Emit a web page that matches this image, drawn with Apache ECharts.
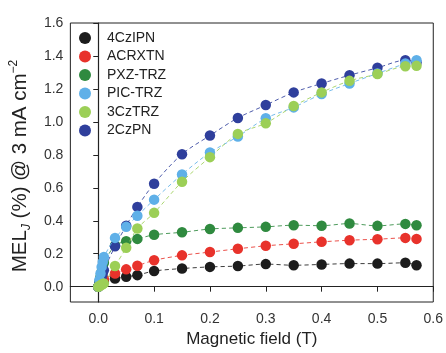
<!DOCTYPE html>
<html><head><meta charset="utf-8">
<script src="https://cdn.jsdelivr.net/npm/echarts@6/dist/echarts.min.js"></script>
<style>html,body{margin:0;padding:0;background:#fff}#c{width:446px;height:353px}</style>
</head><body><div id="c"></div>
<script>
const fields = [0, 0.002, 0.004, 0.006, 0.008, 0.01, 0.03, 0.05, 0.07, 0.1, 0.15, 0.2, 0.25, 0.3, 0.35, 0.4, 0.45, 0.5, 0.55, 0.57];
const s4CzIPN = [0, 0.008, 0.015, 0.022, 0.028, 0.034, 0.05, 0.06, 0.07, 0.095, 0.11, 0.12, 0.125, 0.137, 0.13, 0.135, 0.14, 0.14, 0.145, 0.13];
const sACRXTN = [0, 0.01, 0.02, 0.03, 0.038, 0.045, 0.08, 0.105, 0.127, 0.16, 0.19, 0.21, 0.23, 0.248, 0.26, 0.272, 0.282, 0.288, 0.296, 0.29];
const sPXZTRZ = [0, 0.03, 0.06, 0.09, 0.12, 0.145, 0.25, 0.276, 0.29, 0.315, 0.33, 0.35, 0.357, 0.363, 0.373, 0.37, 0.383, 0.369, 0.381, 0.373];
const sPICTRZ = [0, 0.04, 0.08, 0.12, 0.15, 0.18, 0.296, 0.363, 0.43, 0.528, 0.681, 0.814, 0.911, 1.022, 1.088, 1.169, 1.233, 1.294, 1.354, 1.374];
const s3CzTRZ = [0, 0.004, 0.008, 0.012, 0.016, 0.02, 0.125, 0.236, 0.353, 0.448, 0.637, 0.786, 0.927, 0.992, 1.096, 1.179, 1.249, 1.29, 1.338, 1.34];
const s2CzPN = [0, 0.02, 0.04, 0.06, 0.08, 0.1, 0.245, 0.37, 0.484, 0.625, 0.804, 0.917, 1.024, 1.102, 1.179, 1.233, 1.283, 1.328, 1.374, 1.36];
const names = ['4CzIPN', 'ACRXTN', 'PXZ-TRZ', 'PIC-TRZ', '3CzTRZ', '2CzPN'];
const colors = ['#1c1c1c', '#e8322b', '#2f8a3f', '#5fb0e8', '#9ccf57', '#2f3f9c'];
const values = [s4CzIPN, sACRXTN, sPXZTRZ, sPICTRZ, s3CzTRZ, s2CzPN];
const zOrder = [2, 3, 4, 6, 7, 5];
const xTicks = [0, 0.1, 0.2, 0.3, 0.4, 0.5, 0.6];
const yTicks = [0, 0.2, 0.4, 0.6, 0.8, 1.0, 1.2, 1.4, 1.6];

const font = '"Liberation Sans", Arial, sans-serif';
const chart = echarts.init(document.getElementById('c'), null, {renderer: 'canvas'});
const series = names.map((n, i) => ({
  name: n, type: 'line', z: zOrder[i],
  data: fields.map((x, k) => [x, values[i][k]]),
  symbol: 'circle', symbolSize: 10.5, smooth: 0.3,
  itemStyle: {color: colors[i], opacity: 1},
  lineStyle: {color: colors[i], width: 1, type: [4, 3], opacity: 0.85},
  emphasis: {disabled: true}
}));
chart.setOption({
  animation: false,
  textStyle: {fontFamily: font},
  grid: {left: 68, right: 11, top: 23, bottom: 50, show: true, borderColor: '#222', borderWidth: 1},
  legend: {
    orient: 'vertical', left: 74, top: 26, itemWidth: 34, itemHeight: 12, itemGap: 4.5,
    icon: 'circle', data: names,
    textStyle: {fontSize: 14, color: '#222', fontFamily: font}
  },
  xAxis: {
    type: 'value', min: -0.05, max: 0.6,
    name: 'Magnetic field (T)', nameLocation: 'middle', nameGap: 29,
    nameTextStyle: {fontSize: 17, color: '#222', fontFamily: font},
    splitLine: {show: false},
    axisLine: {lineStyle: {color: '#222', width: 1.2}},
    axisTick: {customValues: xTicks, length: 5, inside: false, lineStyle: {color: '#222'}},
    axisLabel: {customValues: xTicks, fontSize: 14, color: '#333', margin: 10, formatter: v => v.toFixed(1)}
  },
  yAxis: {
    type: 'value', min: -0.093, max: 1.6,
    name: '{a|MEL}{sub|J}{a| (%) @ 3 mA cm}{sup|−2}', nameLocation: 'middle', nameGap: 30,
    nameTextStyle: {
      fontSize: 20.5, color: '#222', fontFamily: font, padding: [0, 7, 0, 0],
      rich: {
        a: {fontSize: 20.5, color: '#222', fontFamily: font},
        sub: {fontSize: 12, fontStyle: 'italic', color: '#222', fontFamily: font, verticalAlign: 'bottom', padding: [13, 0, 0, 0]},
        sup: {fontSize: 12, color: '#222', fontFamily: font, verticalAlign: 'top', padding: [0, 0, 13, 0]}
      }
    },
    splitLine: {show: false},
    axisLine: {lineStyle: {color: '#222', width: 1.2}},
    axisTick: {customValues: yTicks, length: 5, inside: false, lineStyle: {color: '#222'}},
    axisLabel: {customValues: yTicks, fontSize: 14, color: '#333', margin: 7, formatter: v => v.toFixed(1)}
  },
  series: series
});
</script></body></html>
